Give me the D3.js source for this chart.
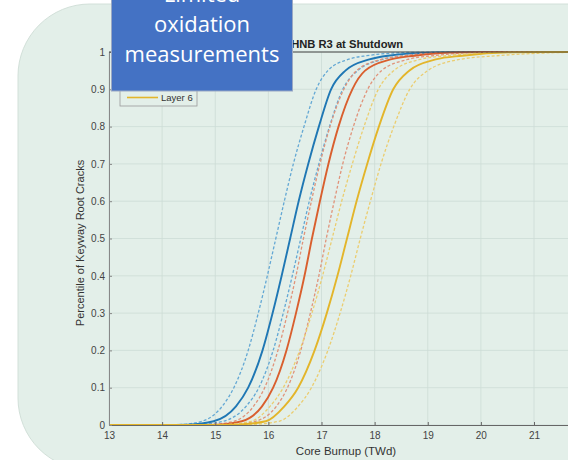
<!DOCTYPE html>
<html>
<head>
<meta charset="utf-8">
<script src="https://d3js.org/d3.v7.min.js"></script>
<style>
  body { margin: 0; background: #fff; }
  svg { display: block; }
</style>
</head>
<body>
<div id="chart"></div>
<script>
var levels = [0, 0.001, 0.01, 0.05, 0.1, 0.2, 0.3, 0.4, 0.5, 0.6, 0.7, 0.8, 0.9, 0.95, 0.98, 0.99, 0.999, 1];

// core burnup (TWd) for each level
var blueLow   = [13.9, 14.3, 14.75, 15.13, 15.35, 15.62, 15.81, 15.98, 16.14, 16.3, 16.47, 16.67, 16.9, 17.12, 17.5, 17.85, 18.7, 19.5];
var blueMid   = [14.0, 14.49, 14.97, 15.39, 15.62, 15.89, 16.08, 16.25, 16.41, 16.57, 16.75, 16.95, 17.18, 17.45, 17.9, 18.25, 19.2, 20.0];
var blueHigh  = [14.2, 14.65, 15.15, 15.58, 15.82, 16.09, 16.28, 16.45, 16.61, 16.77, 16.95, 17.15, 17.4, 17.68, 18.15, 18.55, 19.5, 20.3];
var redLow    = [14.4, 14.9, 15.35, 15.72, 15.93, 16.18, 16.36, 16.52, 16.66, 16.81, 16.97, 17.16, 17.42, 17.66, 18.12, 18.55, 19.4, 20.3];
var redMid    = [14.6, 15.05, 15.5, 15.88, 16.09, 16.34, 16.52, 16.68, 16.82, 16.97, 17.13, 17.32, 17.58, 17.82, 18.3, 18.75, 19.6, 20.5];
var redHigh   = [14.8, 15.3, 15.76, 16.15, 16.36, 16.61, 16.79, 16.95, 17.09, 17.24, 17.4, 17.6, 17.87, 18.13, 18.62, 19.1, 20.0, 21.0];
var yellowLow = [14.7, 15.15, 15.68, 16.03, 16.28, 16.59, 16.82, 17.02, 17.2, 17.38, 17.58, 17.8, 18.07, 18.36, 18.85, 19.35, 20.3, 21.2];
var yellowMid = [14.9, 15.4, 15.95, 16.3, 16.56, 16.87, 17.1, 17.3, 17.48, 17.66, 17.86, 18.08, 18.35, 18.65, 19.15, 19.65, 20.6, 21.5];
var yellowHigh= [15.1, 15.62, 16.2, 16.56, 16.81, 17.12, 17.35, 17.55, 17.73, 17.92, 18.12, 18.36, 18.66, 19.0, 19.6, 20.3, 21.6, 22.0];

var xTicks = [13, 14, 15, 16, 17, 18, 19, 20, 21];
var yTicks = [0, 0.1, 0.2, 0.3, 0.4, 0.5, 0.6, 0.7, 0.8, 0.9, 1];
var legendNames = ["Layer 2", "Layer 4", "Layer 6"];
var noteLines = ["Limited", "oxidation", "measurements"];

var series = [
  { v: blueLow,    c: "#64a8d4", dash: true },
  { v: blueHigh,   c: "#64a8d4", dash: true },
  { v: blueMid,    c: "#1f77b4", dash: false },
  { v: redLow,     c: "#e0937a", dash: true },
  { v: redHigh,    c: "#e0937a", dash: true },
  { v: redMid,     c: "#d95f2e", dash: false },
  { v: yellowLow,  c: "#ebcd70", dash: true },
  { v: yellowHigh, c: "#ebcd70", dash: true },
  { v: yellowMid,  c: "#e3b52a", dash: false }
];

var width = 568, height = 460;
var svg = d3.select("#chart").append("svg")
  .attr("width", width).attr("height", height);

// slide panel background
svg.append("rect")
  .attr("x", 18).attr("y", 4).attr("width", 700).attr("height", 466)
  .attr("rx", 72).attr("ry", 72)
  .attr("fill", "#e3efe9").attr("stroke", "#d2e0d9");

var x = d3.scaleLinear().domain([13, 22]).range([109, 109 + 9 * 53.125]);
var y = d3.scaleLinear().domain([0, 1]).range([425, 52]);

var fontAx = "'Liberation Sans', Arial, sans-serif";

// grid
svg.append("g").selectAll("line").data(xTicks.concat([22])).enter().append("line")
  .attr("x1", d => x(d)).attr("x2", d => x(d))
  .attr("y1", y(0)).attr("y2", y(1))
  .attr("stroke", "#cddcd5").attr("stroke-width", 0.8);
svg.append("g").selectAll("line").data(yTicks).enter().append("line")
  .attr("x1", x(13)).attr("x2", x(22))
  .attr("y1", d => y(d)).attr("y2", d => y(d))
  .attr("stroke", "#cddcd5").attr("stroke-width", 0.8);

// curves
var line = d3.line()
  .x(d => x(d[0])).y(d => y(d[1]))
  .curve(d3.curveMonotoneX);

series.forEach(function (s) {
  var pts = [[13, 0]];
  s.v.forEach(function (b, i) { if (b > 13) pts.push([b, levels[i]]); });
  if (s.v[s.v.length - 1] < 22) pts.push([22, 1]);
  svg.append("path")
    .datum(pts)
    .attr("d", line)
    .attr("fill", "none")
    .attr("stroke", s.c)
    .attr("stroke-width", s.dash ? 1.3 : 1.9)
    .attr("stroke-dasharray", s.dash ? "3,2" : null);
});

// axes
var xAxis = d3.axisBottom(x).tickValues(xTicks).tickSize(-3).tickPadding(7).tickFormat(d3.format("d"));
var gx = svg.append("g").attr("transform", "translate(0," + y(0) + ")").call(xAxis);
gx.select(".domain").attr("stroke", "#666");
gx.selectAll(".tick line").attr("stroke", "#666");
gx.selectAll("text").attr("fill", "#444").style("font", "10px " + fontAx);

var yAxis = d3.axisLeft(y).tickValues(yTicks).tickSize(-3).tickPadding(4)
  .tickFormat(d => d === 0 ? "0" : d === 1 ? "1" : d3.format(".1f")(d));
var gy = svg.append("g").attr("transform", "translate(" + x(13) + ",0)").call(yAxis);
gy.select(".domain").attr("stroke", "#888");
gy.selectAll(".tick line").attr("stroke", "#888");
gy.selectAll("text").attr("fill", "#444").style("font", "10px " + fontAx);

// top box edge
svg.append("line")
  .attr("x1", x(13)).attr("x2", x(22)).attr("y1", y(1)).attr("y2", y(1))
  .attr("stroke", "#444").attr("stroke-width", 1);

// title and axis labels
svg.append("text")
  .attr("x", 403).attr("y", 47.5).attr("text-anchor", "end")
  .style("font", "bold 11.2px " + fontAx).attr("fill", "#222")
  .text("HNB R3 at Shutdown");

svg.append("text")
  .attr("x", 346).attr("y", 455).attr("text-anchor", "middle")
  .style("font", "11.5px " + fontAx).attr("fill", "#333")
  .text("Core Burnup (TWd)");

svg.append("text")
  .attr("transform", "translate(84,243) rotate(-90)")
  .attr("text-anchor", "middle")
  .style("font", "11px " + fontAx).attr("fill", "#333")
  .text("Percentile of Keyway Root Cracks");

// legend (mostly hidden behind the note box)
var lg = svg.append("g");
lg.append("rect")
  .attr("x", 120).attr("y", 62).attr("width", 77).attr("height", 44)
  .attr("fill", "#e3efe9").attr("stroke", "#999").attr("stroke-width", 0.8);
var legendColors = ["#1f77b4", "#d95f2e", "#e3b52a"];
legendNames.forEach(function (n, i) {
  var yy = 97.5 - (legendNames.length - 1 - i) * 12;
  lg.append("line").attr("x1", 127).attr("x2", 158).attr("y1", yy).attr("y2", yy)
    .attr("stroke", legendColors[i]).attr("stroke-width", 1.6);
  lg.append("text").attr("x", 161).attr("y", yy + 3.4)
    .style("font", "9.5px " + fontAx).attr("fill", "#333").text(n);
});

// note box
svg.append("rect")
  .attr("x", 111.5).attr("y", -2).attr("width", 181).attr("height", 93)
  .attr("fill", "#4472c4").attr("stroke", "#9aa8c4").attr("stroke-width", 1);
noteLines.forEach(function (t, i) {
  svg.append("text")
    .attr("x", 202).attr("y", 2 + i * 30)
    .attr("text-anchor", "middle")
    .style("font", "22px 'Open Sans', sans-serif")
    .attr("fill", "#fff")
    .text(t);
});
</script>
</body>
</html>
